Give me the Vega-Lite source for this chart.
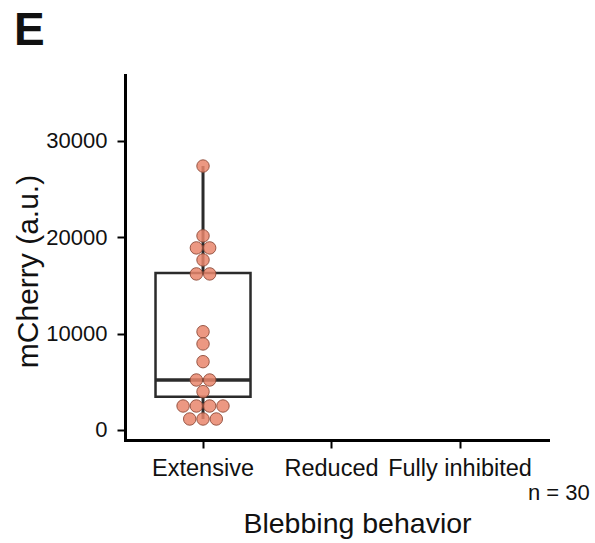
{
  "$schema": "https://vega.github.io/schema/vega-lite/v6.json",
  "width": 423,
  "height": 365,
  "autosize": {"type": "none"},
  "padding": {"left": 125, "top": 75, "right": 47, "bottom": 103},
  "background": "white",
  "config": {
    "view": {"stroke": null},
    "font": "Liberation Sans",
    "axis": {
      "grid": false,
      "domainColor": "#000000",
      "domainWidth": 3,
      "domainCap": "square",
      "tickColor": "#000000",
      "tickWidth": 2,
      "tickSize": 8,
      "labelFont": "Liberation Sans",
      "labelColor": "#111111",
      "titleFont": "Liberation Sans",
      "titleFontWeight": "normal",
      "titleColor": "#111111"
    },
    "axisY": {
      "labelFontSize": 22,
      "labelPadding": 10,
      "titleFontSize": 30,
      "titleX": -88,
      "titleY": 196,
      "titleAlign": "center",
      "titleBaseline": "alphabetic",
      "titleAngle": -90
    },
    "axisX": {
      "labelAngle": 0,
      "labelFontSize": 23.5,
      "labelPadding": 8,
      "titleFontSize": 28.5,
      "titleX": 232,
      "titleY": 92,
      "titleAlign": "center",
      "titleBaseline": "alphabetic"
    }
  },
  "title": {
    "text": "E",
    "anchor": "start",
    "frame": "group",
    "orient": "top",
    "offset": 30,
    "baseline": "alphabetic",
    "dx": -111,
    "dy": 46,
    "fontSize": 46,
    "fontWeight": "bold",
    "font": "Liberation Sans",
    "color": "#111111"
  },
  "datasets": {
    "points": [
      {"behavior": "Extensive", "mcherry": 27400, "slot": 0},
      {"behavior": "Extensive", "mcherry": 20150, "slot": 0},
      {"behavior": "Extensive", "mcherry": 18900, "slot": -0.5},
      {"behavior": "Extensive", "mcherry": 18900, "slot": 0.5},
      {"behavior": "Extensive", "mcherry": 17650, "slot": 0},
      {"behavior": "Extensive", "mcherry": 16200, "slot": -0.5},
      {"behavior": "Extensive", "mcherry": 16200, "slot": 0.5},
      {"behavior": "Extensive", "mcherry": 10200, "slot": 0},
      {"behavior": "Extensive", "mcherry": 8930, "slot": 0},
      {"behavior": "Extensive", "mcherry": 7090, "slot": 0},
      {"behavior": "Extensive", "mcherry": 5190, "slot": -0.5},
      {"behavior": "Extensive", "mcherry": 5190, "slot": 0.5},
      {"behavior": "Extensive", "mcherry": 3980, "slot": 0},
      {"behavior": "Extensive", "mcherry": 2490, "slot": -1.5},
      {"behavior": "Extensive", "mcherry": 2490, "slot": -0.5},
      {"behavior": "Extensive", "mcherry": 2490, "slot": 0.5},
      {"behavior": "Extensive", "mcherry": 2490, "slot": 1.5},
      {"behavior": "Extensive", "mcherry": 1140, "slot": -1},
      {"behavior": "Extensive", "mcherry": 1140, "slot": 0},
      {"behavior": "Extensive", "mcherry": 1140, "slot": 1}
    ],
    "summary": [
      {"behavior": "Extensive", "min": 1140, "q1": 3460, "median": 5200, "q3": 16300, "max": 27400}
    ],
    "note": [
      {"label": "n = 30"}
    ]
  },
  "encoding": {
    "x": {
      "field": "behavior",
      "type": "nominal",
      "title": "Blebbing behavior",
      "scale": {"domain": ["Extensive", "Reduced", "Fully inhibited"], "paddingInner": 0, "paddingOuter": 0.146, "align": 0.367}
    }
  },
  "layer": [
    {
      "data": {"name": "summary"},
      "mark": {"type": "rule", "stroke": "#2b2b2b", "strokeWidth": 3},
      "encoding": {
        "y": {
          "field": "q3",
          "type": "quantitative",
          "title": "mCherry (a.u.)",
          "scale": {"domain": [-1040, 36850], "nice": false, "zero": false},
          "axis": {"values": [0, 10000, 20000, 30000], "format": "d"}
        },
        "y2": {"field": "max"}
      }
    },
    {
      "data": {"name": "summary"},
      "mark": {"type": "rule", "stroke": "#2b2b2b", "strokeWidth": 3},
      "encoding": {
        "y": {"field": "min", "type": "quantitative", "title": "mCherry (a.u.)"},
        "y2": {"field": "q1"}
      }
    },
    {
      "data": {"name": "summary"},
      "mark": {"type": "bar", "width": 95, "fill": "#ffffff", "fillOpacity": 0, "stroke": "#2b2b2b", "strokeWidth": 2.5},
      "encoding": {
        "y": {"field": "q1", "type": "quantitative", "title": "mCherry (a.u.)"},
        "y2": {"field": "q3"}
      }
    },
    {
      "data": {"name": "summary"},
      "mark": {"type": "tick", "size": 95, "thickness": 3.5, "color": "#2b2b2b", "opacity": 1},
      "encoding": {
        "y": {"field": "median", "type": "quantitative", "title": "mCherry (a.u.)"}
      }
    },
    {
      "data": {"name": "points"},
      "mark": {"type": "point", "shape": "circle", "filled": true, "size": 155, "fill": "#E9866C", "fillOpacity": 0.85, "stroke": "#8E4A38", "strokeWidth": 1, "strokeOpacity": 0.9},
      "encoding": {
        "xOffset": {"field": "slot", "type": "quantitative", "scale": {"domain": [-1, 1], "range": [50.95, 77.55]}},
        "y": {"field": "mcherry", "type": "quantitative", "title": "mCherry (a.u.)"}
      }
    },
    {
      "data": {"name": "note"},
      "mark": {"type": "text", "align": "left", "baseline": "alphabetic", "dx": 68, "fontSize": 22, "font": "Liberation Sans", "color": "#111111"},
      "encoding": {
        "x": {"datum": "Fully inhibited", "type": "nominal"},
        "y": {"datum": -7300, "type": "quantitative"},
        "text": {"field": "label"}
      }
    }
  ]
}
